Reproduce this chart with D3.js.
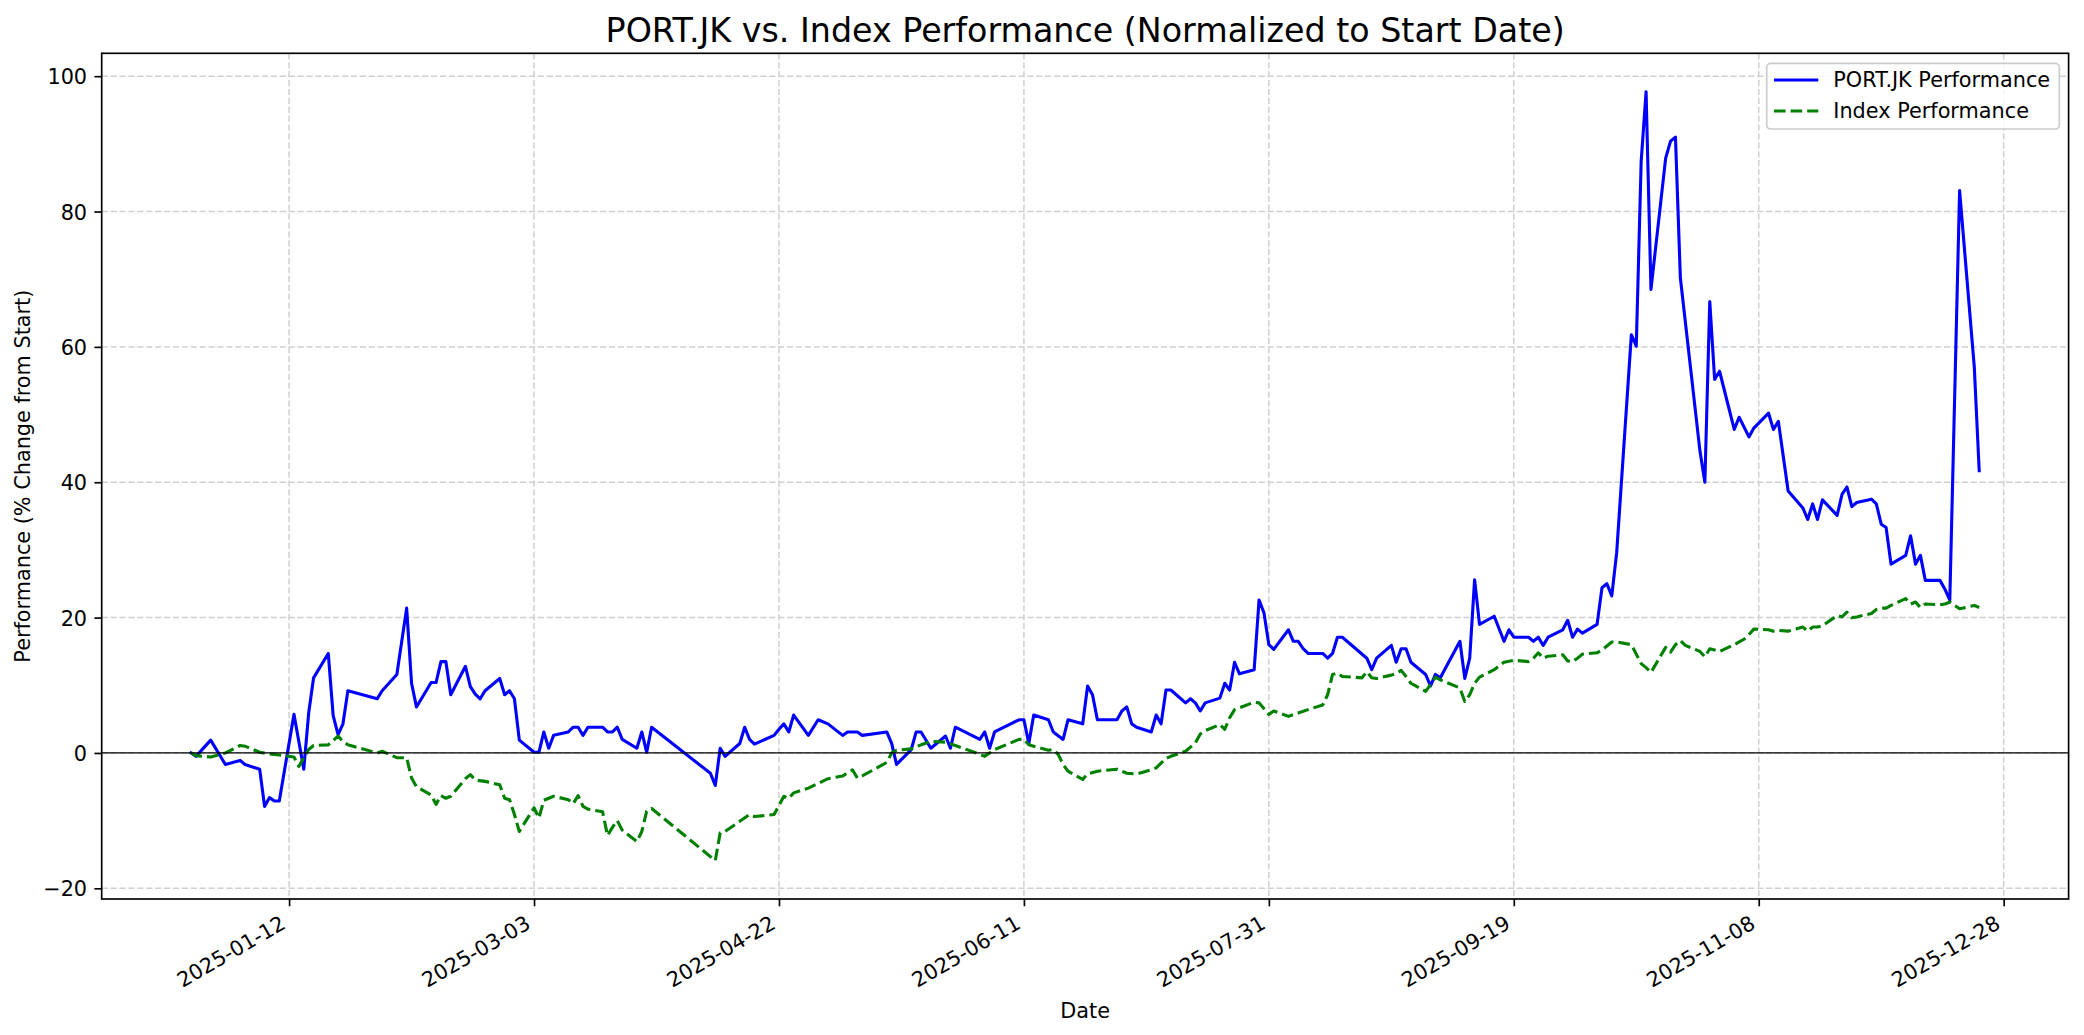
<!DOCTYPE html>
<html><head><meta charset="utf-8">
<script src="https://cdn.jsdelivr.net/npm/d3@7"></script>
<style>body{margin:0;background:#fff}svg{display:block}</style>
</head><body>
<svg id="chart" width="2084" height="1035"></svg>
<script>
const chartTitle = "PORT.JK vs. Index Performance (Normalized to Start Date)";
const xLabel = "Date";
const yLabel = "Performance (% Change from Start)";
const seriesNames = ["PORT.JK Performance", "Index Performance"];

const portDates = ["2024-12-23","2024-12-24","2024-12-27","2024-12-30","2025-01-02","2025-01-03","2025-01-06","2025-01-07","2025-01-08","2025-01-09","2025-01-10","2025-01-13","2025-01-15","2025-01-16","2025-01-17","2025-01-20","2025-01-21","2025-01-22","2025-01-23","2025-01-24","2025-01-30","2025-01-31","2025-02-03","2025-02-05","2025-02-06","2025-02-07","2025-02-10","2025-02-11","2025-02-12","2025-02-13","2025-02-14","2025-02-17","2025-02-18","2025-02-19","2025-02-20","2025-02-21","2025-02-24","2025-02-25","2025-02-26","2025-02-27","2025-02-28","2025-03-03","2025-03-04","2025-03-05","2025-03-06","2025-03-07","2025-03-10","2025-03-11","2025-03-12","2025-03-13","2025-03-14","2025-03-17","2025-03-18","2025-03-19","2025-03-20","2025-03-21","2025-03-24","2025-03-25","2025-03-26","2025-03-27","2025-04-08","2025-04-09","2025-04-10","2025-04-11","2025-04-14","2025-04-15","2025-04-16","2025-04-17","2025-04-21","2025-04-22","2025-04-23","2025-04-24","2025-04-25","2025-04-28","2025-04-30","2025-05-02","2025-05-05","2025-05-06","2025-05-08","2025-05-09","2025-05-14","2025-05-15","2025-05-16","2025-05-19","2025-05-20","2025-05-21","2025-05-23","2025-05-26","2025-05-27","2025-05-28","2025-06-02","2025-06-03","2025-06-04","2025-06-05","2025-06-10","2025-06-11","2025-06-12","2025-06-13","2025-06-16","2025-06-17","2025-06-19","2025-06-20","2025-06-23","2025-06-24","2025-06-25","2025-06-26","2025-06-30","2025-07-01","2025-07-02","2025-07-03","2025-07-04","2025-07-07","2025-07-08","2025-07-09","2025-07-10","2025-07-11","2025-07-14","2025-07-15","2025-07-16","2025-07-17","2025-07-18","2025-07-21","2025-07-22","2025-07-23","2025-07-24","2025-07-25","2025-07-28","2025-07-29","2025-07-30","2025-07-31","2025-08-01","2025-08-04","2025-08-05","2025-08-06","2025-08-07","2025-08-08","2025-08-11","2025-08-12","2025-08-13","2025-08-14","2025-08-15","2025-08-20","2025-08-21","2025-08-22","2025-08-25","2025-08-26","2025-08-27","2025-08-28","2025-08-29","2025-09-01","2025-09-02","2025-09-03","2025-09-04","2025-09-08","2025-09-09","2025-09-10","2025-09-11","2025-09-12","2025-09-15","2025-09-17","2025-09-18","2025-09-19","2025-09-22","2025-09-23","2025-09-24","2025-09-25","2025-09-26","2025-09-29","2025-09-30","2025-10-01","2025-10-02","2025-10-03","2025-10-06","2025-10-07","2025-10-08","2025-10-09","2025-10-10","2025-10-13","2025-10-14","2025-10-15","2025-10-16","2025-10-17","2025-10-20","2025-10-21","2025-10-22","2025-10-23","2025-10-27","2025-10-28","2025-10-29","2025-10-30","2025-10-31","2025-11-03","2025-11-04","2025-11-06","2025-11-07","2025-11-10","2025-11-11","2025-11-12","2025-11-14","2025-11-17","2025-11-18","2025-11-19","2025-11-20","2025-11-21","2025-11-24","2025-11-25","2025-11-26","2025-11-27","2025-11-28","2025-12-01","2025-12-02","2025-12-03","2025-12-04","2025-12-05","2025-12-08","2025-12-09","2025-12-10","2025-12-11","2025-12-12","2025-12-15","2025-12-16","2025-12-17","2025-12-19","2025-12-22","2025-12-23"];
const portValues = [0,-0.5,1.9,-1.7,-1.1,-1.7,-2.4,-7.9,-6.6,-7.1,-7.1,5.7,-2.4,5.9,11.1,14.7,5.5,2.7,4.3,9.2,8.0,9.2,11.6,21.4,10.3,6.8,10.4,10.4,13.5,13.5,8.6,12.8,9.8,8.7,8.0,9.2,11.0,8.6,9.2,8.0,1.9,0.1,0.1,3.1,0.7,2.6,3.1,3.8,3.8,2.6,3.8,3.8,3.1,3.1,3.8,2.0,0.7,3.1,0.1,3.8,-3.0,-4.8,0.7,-0.5,1.4,3.8,2.0,1.3,2.6,3.5,4.3,3.1,5.6,2.6,4.9,4.3,2.6,3.1,3.1,2.6,3.1,1.4,-1.7,0.5,3.1,3.1,0.7,2.5,0.7,3.8,2.0,3.1,0.7,3.1,4.9,4.9,1.4,5.6,4.9,3.1,2.0,4.9,4.3,9.9,8.6,4.9,4.9,6.2,6.8,4.3,3.8,3.1,5.6,4.3,9.3,9.3,7.4,8.0,7.4,6.2,7.4,8.1,10.3,9.3,13.4,11.7,12.3,22.6,20.7,16.0,15.3,18.2,16.5,16.5,15.4,14.7,14.7,14.0,14.7,17.1,17.1,14.0,12.3,14.0,15.9,13.4,15.4,15.4,13.4,11.6,9.9,11.6,11.1,16.5,11.0,14.0,25.6,19.0,20.2,16.5,18.2,17.1,17.1,16.5,17.1,15.9,17.1,18.2,19.6,17.1,18.3,17.7,19.0,24.4,25.0,23.2,29.6,61.8,60.1,87.4,97.7,68.5,87.9,90.4,91.0,70.2,44.6,40.0,66.7,55.2,56.4,47.8,49.6,46.7,48.0,50.2,47.8,49.0,38.7,36.2,34.5,36.8,34.5,37.4,35.1,38.2,39.3,36.4,37.0,37.5,36.8,33.8,33.3,27.9,29.2,32.1,27.9,29.2,25.5,25.5,24.2,22.6,83.1,57.0,41.7];

const indexDates = ["2024-12-23","2024-12-24","2024-12-27","2024-12-30","2025-01-02","2025-01-03","2025-01-06","2025-01-08","2025-01-10","2025-01-13","2025-01-14","2025-01-15","2025-01-16","2025-01-17","2025-01-20","2025-01-22","2025-01-23","2025-01-24","2025-01-30","2025-01-31","2025-02-03","2025-02-05","2025-02-06","2025-02-07","2025-02-10","2025-02-11","2025-02-12","2025-02-13","2025-02-14","2025-02-17","2025-02-18","2025-02-19","2025-02-21","2025-02-24","2025-02-25","2025-02-26","2025-02-27","2025-02-28","2025-03-03","2025-03-04","2025-03-05","2025-03-06","2025-03-07","2025-03-10","2025-03-11","2025-03-12","2025-03-13","2025-03-14","2025-03-17","2025-03-18","2025-03-19","2025-03-20","2025-03-21","2025-03-24","2025-03-25","2025-03-26","2025-03-27","2025-04-09","2025-04-10","2025-04-11","2025-04-14","2025-04-16","2025-04-17","2025-04-21","2025-04-23","2025-04-24","2025-04-25","2025-04-28","2025-05-02","2025-05-05","2025-05-07","2025-05-08","2025-05-09","2025-05-14","2025-05-15","2025-05-16","2025-05-19","2025-05-21","2025-05-23","2025-05-26","2025-05-28","2025-06-02","2025-06-03","2025-06-05","2025-06-10","2025-06-11","2025-06-12","2025-06-16","2025-06-17","2025-06-18","2025-06-19","2025-06-20","2025-06-23","2025-06-24","2025-06-26","2025-06-30","2025-07-02","2025-07-04","2025-07-07","2025-07-08","2025-07-10","2025-07-11","2025-07-14","2025-07-16","2025-07-17","2025-07-18","2025-07-21","2025-07-22","2025-07-23","2025-07-24","2025-07-28","2025-07-29","2025-07-31","2025-08-01","2025-08-04","2025-08-06","2025-08-08","2025-08-11","2025-08-12","2025-08-13","2025-08-14","2025-08-15","2025-08-19","2025-08-20","2025-08-21","2025-08-22","2025-08-25","2025-08-26","2025-08-27","2025-08-28","2025-08-29","2025-09-01","2025-09-02","2025-09-03","2025-09-04","2025-09-08","2025-09-09","2025-09-10","2025-09-11","2025-09-12","2025-09-15","2025-09-17","2025-09-19","2025-09-22","2025-09-23","2025-09-24","2025-09-25","2025-09-26","2025-09-29","2025-09-30","2025-10-01","2025-10-02","2025-10-03","2025-10-06","2025-10-07","2025-10-08","2025-10-09","2025-10-10","2025-10-13","2025-10-14","2025-10-15","2025-10-16","2025-10-17","2025-10-20","2025-10-21","2025-10-22","2025-10-23","2025-10-24","2025-10-27","2025-10-28","2025-10-29","2025-10-30","2025-10-31","2025-11-03","2025-11-04","2025-11-05","2025-11-06","2025-11-07","2025-11-10","2025-11-11","2025-11-12","2025-11-14","2025-11-17","2025-11-18","2025-11-19","2025-11-20","2025-11-21","2025-11-24","2025-11-25","2025-11-26","2025-11-27","2025-11-28","2025-12-01","2025-12-02","2025-12-03","2025-12-04","2025-12-05","2025-12-08","2025-12-09","2025-12-10","2025-12-11","2025-12-12","2025-12-15","2025-12-16","2025-12-17","2025-12-19","2025-12-22","2025-12-23"];
const indexValues = [0,-0.4,-0.6,0.0,1.1,1.0,0.1,-0.15,-0.3,-0.6,-2.0,-0.7,0.5,1.1,1.2,2.5,1.7,1.2,0.0,0.25,-0.7,-0.7,-3.7,-5.0,-6.2,-7.6,-6.3,-6.7,-6.4,-3.8,-3.2,-4.0,-4.2,-4.7,-6.7,-6.9,-9.1,-11.6,-8.1,-9.6,-7.0,-6.7,-6.4,-6.9,-7.5,-6.3,-7.9,-8.3,-8.7,-12.2,-11.0,-10.0,-11.4,-13.1,-11.6,-8.6,-8.2,-15.9,-11.8,-11.6,-10.1,-9.1,-9.4,-9.1,-6.4,-6.7,-5.9,-5.2,-3.8,-3.4,-2.5,-3.7,-3.4,-1.4,0.0,0.4,0.6,1.2,1.7,1.6,1.1,-0.2,-0.5,0.5,2.0,2.0,1.2,0.4,0.5,-0.2,-1.7,-2.7,-3.9,-3.1,-2.7,-2.4,-3.0,-3.1,-2.5,-2.2,-0.8,-0.5,0.25,1.5,2.8,3.3,4.2,3.5,5.2,6.4,7.5,7.4,5.7,6.2,5.4,5.9,6.4,7.1,8.6,11.6,11.8,11.3,11.1,12.0,11.1,11.0,11.5,11.7,12.2,11.3,10.3,9.1,10.1,11.2,10.8,9.6,7.6,8.6,10.3,11.2,12.3,13.4,13.7,13.5,14.0,14.8,14.0,14.3,14.5,13.6,13.5,14.0,14.6,14.8,15.2,15.8,16.4,16.4,16.0,14.6,13.2,12.6,11.9,15.6,14.9,16.0,16.6,15.9,15.0,14.2,15.4,15.2,15.0,16.0,16.4,16.8,17.5,18.3,18.2,18.0,18.1,18.0,18.6,18.0,18.6,18.6,18.8,20.3,20.1,20.8,20.0,20.1,20.6,21.2,21.4,21.4,21.8,22.8,22.0,22.3,21.5,22.0,21.9,22.0,22.3,21.3,21.8,21.5];

const xTickLabels = ["2025-01-12","2025-03-03","2025-04-22","2025-06-11","2025-07-31","2025-09-19","2025-11-08","2025-12-28"];
const yTickValues = [-20,0,20,40,60,80,100];

const parse = d3.utcParse("%Y-%m-%d");
const port = portDates.map((d,i)=>({date:parse(d), value:portValues[i]}));
const index = indexDates.map((d,i)=>({date:parse(d), value:indexValues[i]}));

const W = 2084, H = 1035;
const L = 101.7, R = 2068.6, T = 53.3, B = 899;
const FONT = "'DejaVu Sans', 'Liberation Sans', sans-serif";
const fs = 20.8;

const svg = d3.select("#chart");
svg.append("rect").attr("width",W).attr("height",H).attr("fill","#fff");

const allDates = port.map(d=>d.date).concat(index.map(d=>d.date));
const allVals = portValues.concat(indexValues);
const [d0,d1] = d3.extent(allDates);
const span = d1 - d0;
const x = d3.scaleUtc().domain([new Date(+d0 - 0.05*span), new Date(+d1 + 0.05*span)]).range([L,R]);
const [v0,v1] = d3.extent(allVals);
const vs = v1 - v0;
const y = d3.scaleLinear().domain([v0 - 0.05*vs, v1 + 0.05*vs]).range([B,T]);

const xTicks = xTickLabels.map(parse);

// grid
const grid = svg.append("g");
grid.selectAll("line.gx").data(xTicks).join("line")
  .attr("x1",d=>x(d)).attr("x2",d=>x(d)).attr("y1",T).attr("y2",B)
  .attr("stroke","#d0d0d0").attr("stroke-width",1.5).attr("stroke-dasharray","6.2,2.7");
grid.selectAll("line.gy").data(yTickValues).join("line")
  .attr("x1",L).attr("x2",R).attr("y1",d=>y(d)).attr("y2",d=>y(d))
  .attr("stroke","#d0d0d0").attr("stroke-width",1.5).attr("stroke-dasharray","6.2,2.7");

// lines
const clip = svg.append("clipPath").attr("id","clip").append("rect")
  .attr("x",L).attr("y",T).attr("width",R-L).attr("height",B-T);
const line = d3.line().x(d=>x(d.date)).y(d=>y(d.value));
const plot = svg.append("g").attr("clip-path","url(#clip)");
plot.append("path").datum(port).attr("d",line).attr("fill","none")
  .attr("stroke","#0000ff").attr("stroke-width",3.1).attr("stroke-linejoin","round").attr("stroke-linecap","square");
plot.append("path").datum(index).attr("d",line).attr("fill","none")
  .attr("stroke","#008000").attr("stroke-width",3.1).attr("stroke-linejoin","round")
  .attr("stroke-dasharray","11.6,5");
plot.append("line").attr("x1",L).attr("x2",R).attr("y1",y(0)).attr("y2",y(0))
  .attr("stroke","#000").attr("stroke-width",1.2);

// axes
const tickLen = 7.3, tickPad = 7.3;
const fmtY = d => d < 0 ? "\u2212" + Math.abs(d) : String(d);
const yAxis = svg.append("g").attr("transform",`translate(${L},0)`)
  .call(d3.axisLeft(y).tickValues(yTickValues).tickFormat(fmtY).tickSize(tickLen).tickPadding(tickPad));
yAxis.select(".domain").remove();
yAxis.selectAll(".tick line").attr("stroke","#000").attr("stroke-width",1.67);
yAxis.selectAll(".tick text").attr("font-family",FONT).attr("font-size",fs).attr("fill","#000").attr("dy","0.36em");

const xAxis = svg.append("g").attr("transform",`translate(0,${B})`)
  .call(d3.axisBottom(x).tickValues(xTicks).tickFormat(d3.utcFormat("%Y-%m-%d")).tickSize(tickLen).tickPadding(tickPad));
xAxis.select(".domain").remove();
xAxis.selectAll(".tick line").attr("stroke","#000").attr("stroke-width",1.67);
xAxis.selectAll(".tick text").attr("font-family",FONT).attr("font-size",fs).attr("fill","#000")
  .attr("x",0).attr("y",0).attr("dy",null).attr("text-anchor","end")
  .attr("transform","translate(-2.5,28.5) rotate(-30)");

// spines
svg.append("rect").attr("x",L).attr("y",T).attr("width",R-L).attr("height",B-T)
  .attr("fill","none").attr("stroke","#000").attr("stroke-width",1.67);

// labels
svg.append("text").attr("x",(L+R)/2).attr("y",41.8).attr("text-anchor","middle")
  .attr("font-family",FONT).attr("font-size",33.3).attr("fill","#000").text(chartTitle);
svg.append("text").attr("x",(L+R)/2).attr("y",1018).attr("text-anchor","middle")
  .attr("font-family",FONT).attr("font-size",fs).attr("fill","#000").text(xLabel);
svg.append("text").attr("transform",`translate(30,${(T+B)/2}) rotate(-90)`).attr("text-anchor","middle")
  .attr("font-family",FONT).attr("font-size",fs).attr("fill","#000").text(yLabel);

// legend
const lg = svg.append("g");
const lgX = 1766.7, lgY = 63.3, lgW = 292.6, lgH = 65.7;
lg.append("rect").attr("x",lgX).attr("y",lgY).attr("width",lgW).attr("height",lgH)
  .attr("rx",4).attr("ry",4).attr("fill","#fff").attr("fill-opacity",0.8)
  .attr("stroke","#cccccc").attr("stroke-width",1.67);
const legendItems = [
  {name: seriesNames[0], color:"#0000ff", dash:null, cy:80},
  {name: seriesNames[1], color:"#008000", dash:"11.6,5", cy:111}
];
legendItems.forEach(it=>{
  lg.append("line").attr("x1",1774).attr("x2",1818.3).attr("y1",it.cy).attr("y2",it.cy)
    .attr("stroke",it.color).attr("stroke-width",3.1).attr("stroke-dasharray",it.dash);
  lg.append("text").attr("x",1833.3).attr("y",it.cy).attr("dy","0.36em")
    .attr("font-family",FONT).attr("font-size",fs).attr("fill","#000").text(it.name);
});
</script>
</body></html>
